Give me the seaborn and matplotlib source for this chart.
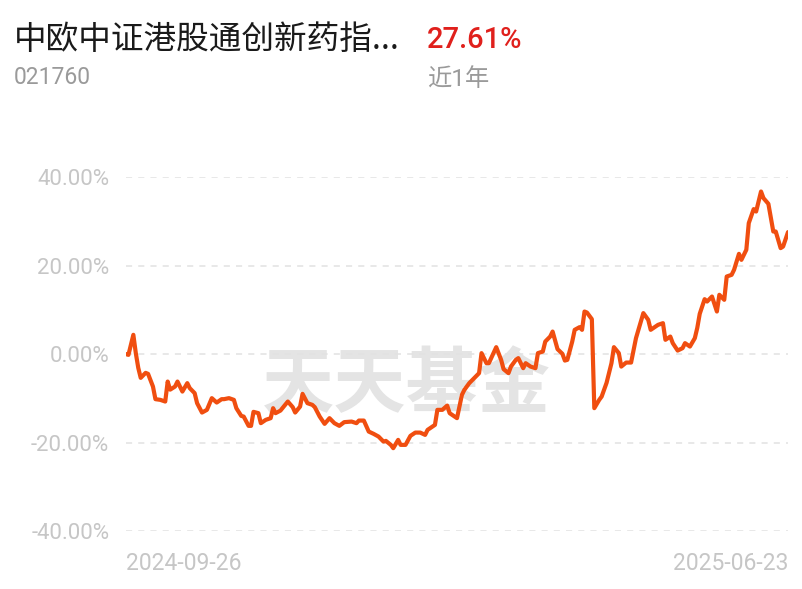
import pandas as pd
import numpy as np
import matplotlib.pyplot as plt
import seaborn as sns

# fund info
fund_name = "中欧中证港股通创新药指..."
fund_code = "021760"
period_return = "27.61%"
period_label = "近1年"
watermark = "天天基金"

start_date = "2024-09-26"
end_date = "2025-06-23"

# days after start date
day = [
    0, 1, 3, 4, 5, 6, 8, 9, 11, 12, 14, 16, 17, 18, 20, 21, 23, 25, 26, 28,
    29, 31, 33, 35, 37, 39, 40, 42, 44, 45, 47, 48, 50, 51, 52, 54, 55, 57, 59, 60,
    61, 63, 66, 68, 69, 71, 72, 74, 76, 77, 79, 81, 83, 85, 87, 89, 92, 94, 95, 97,
    99, 101, 103, 105, 106, 108, 109, 111, 112, 114, 116, 118, 120, 122, 123, 126, 127, 129, 131, 132,
    133, 135, 137, 138, 140, 142, 144, 145, 147, 148, 151, 153, 154, 156, 157, 159, 160, 161, 162, 163,
    165, 167, 168, 170, 171, 173, 174, 176, 178, 179, 180, 182, 183, 185, 186, 187, 188, 190, 191, 193,
    194, 196, 198, 199, 201, 202, 204, 206, 208, 209, 211, 213, 214, 217, 219, 220, 222, 223, 225, 227,
    228, 230, 232, 233, 234, 236, 237, 239, 241, 242, 244, 245, 247, 248, 250, 251, 253, 254, 256, 257,
    259, 260, 262, 264, 265, 267, 268, 270,
]

# cumulative return, %
ret = [
    0.00, -0.16, 4.37, 0.23, -3.10, -5.36, -4.23, -4.46, -7.33, -10.18, -10.34, -10.72, -6.20, -8.03, -7.33, -6.20, -8.46, -6.56, -7.69, -8.82,
    -11.09, -13.21, -12.60, -9.95, -10.95, -10.18, -10.18, -9.95, -10.34, -12.22, -13.96, -14.12, -16.22, -16.22, -13.05, -13.35, -15.61, -14.86, -14.48, -12.22,
    -13.35, -12.76, -10.72, -11.99, -13.21, -11.86, -8.98, -11.09, -11.47, -11.99, -14.12, -15.77, -14.48, -15.61, -16.22, -15.38, -15.25, -15.61, -15.02, -15.02,
    -17.51, -18.03, -18.64, -19.77, -19.62, -20.52, -21.27, -19.39, -20.52, -20.52, -18.48, -17.74, -17.74, -18.26, -17.13, -16.00, -12.60, -12.60, -11.63, -13.35,
    -13.73, -14.48, -9.21, -8.08, -6.56, -5.43, -4.30, 0.23, -2.04, -2.04, 1.58, -1.29, -3.39, -4.30, -2.81, -1.29, -0.90, -2.04, -3.17, -2.04,
    -2.81, -3.17, 0.23, 0.59, 2.85, 3.98, 5.11, 1.13, 0.07, -1.45, -1.29, 2.85, 5.50, 6.11, 5.50, 9.64, 9.41, 7.92, -12.22, -10.34,
    -9.59, -6.49, -2.04, 1.58, 0.23, -2.81, -1.90, -1.90, 3.62, 5.50, 9.28, 7.76, 5.50, 6.63, 7.01, 3.24, 3.98, 2.49, 0.81, 1.36,
    2.49, 1.72, 3.62, 5.95, 9.12, 12.44, 11.90, 13.03, 9.64, 13.42, 12.29, 17.56, 17.94, 19.07, 22.69, 21.33, 23.60, 29.64, 32.81, 32.26,
    36.79, 35.29, 34.00, 27.74, 27.74, 23.98, 24.34, 27.61,
]

y_ticks = [40, 20, 0, -20, -40]

df = pd.DataFrame({
    "date": pd.Timestamp(start_date) + pd.to_timedelta(day, unit="D"),
    "ret": ret,
})

sns.set_theme(style="white")
plt.rcParams["font.family"] = ["Roboto", "Noto Sans CJK SC", "DejaVu Sans"]

fig = plt.figure(figsize=(8.03, 5.89), dpi=100)
ax = fig.add_axes([126 / 803, 58 / 589, 662 / 803, 353.7 / 589])

# watermark behind the line
ax.text(0.423, 0.41, watermark, transform=ax.transAxes, ha="center", va="center",
        fontsize=52, fontweight="bold", color="#e4e4e4",
        family=["Noto Sans CJK SC"], zorder=0)

sns.lineplot(data=df, x="date", y="ret", ax=ax, color="#f04e10", linewidth=3.0, zorder=3)

ax.set_ylim(-40, 40)
ax.set_xlim(pd.Timestamp(start_date), pd.Timestamp(end_date))
ax.set_yticks(y_ticks)
ax.set_yticklabels([f"{v:.2f}%" for v in y_ticks])
for v in y_ticks:
    ax.axhline(v, color="#e2e2e2", linewidth=1.1, linestyle=(0, (4, 4)), zorder=1)

ax.set_xticks([pd.Timestamp(start_date), pd.Timestamp(end_date)])
ax.set_xticklabels([start_date, end_date])
xt = ax.get_xticklabels()
xt[0].set_ha("left")
xt[1].set_ha("right")

ax.tick_params(axis="y", length=0, pad=12, labelsize=16, labelcolor="#c6c6c6")
ax.tick_params(axis="x", length=0, pad=15, labelsize=16.5, labelcolor="#c6c6c6")
ax.set_xlabel("")
ax.set_ylabel("")
sns.despine(ax=ax, left=True, bottom=True)
ax.grid(False)

# header
fig.text(14 / 803, 1 - 40 / 589, fund_name, ha="left", va="center",
         fontsize=23.5, color="#1a1a1a", family=["Noto Sans CJK SC", "DejaVu Sans"])
fig.text(427 / 803, 1 - 40 / 589, period_return, ha="left", va="center",
         fontsize=21, color="#e0201c", fontweight="medium")
fig.text(14 / 803, 1 - 77 / 589, fund_code, ha="left", va="center",
         fontsize=16.5, color="#9a9a9a")
fig.text(427 / 803, 1 - 80 / 589, period_label, ha="left", va="center",
         fontsize=17.5, color="#9a9a9a")

fig.savefig("out.png", dpi=100, facecolor="white")
